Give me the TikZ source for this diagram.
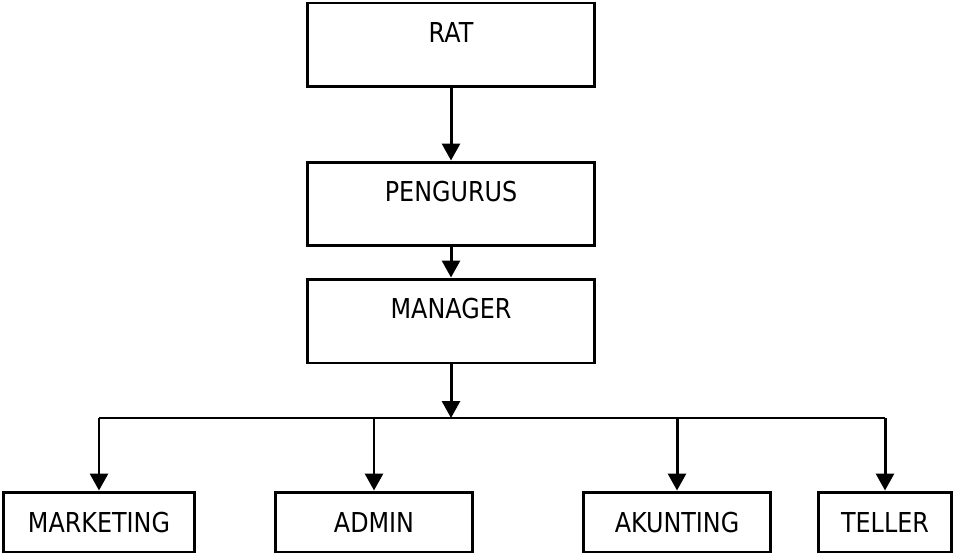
\documentclass[tikz,border=0pt]{standalone}
\usepackage{fontspec}
\setmainfont[FakeStretch=0.87]{DejaVu Sans}
\usepackage{tikz}
\usetikzlibrary{arrows.meta}

\tikzset{
    topbox/.style={draw, line width=1.7pt, minimum width=5.76cm, minimum height=1.68cm,
                   inner ysep=0pt, text height=0.4cm, text depth=0.5cm},
    unitbox/.style={draw, line width=1.7pt, minimum height=1.2cm, inner sep=0pt,
                    text height=0.4cm, text depth=0pt},
    link/.style={line width=1.7pt, -{Triangle[width=0.36cm,length=0.34cm]}}
}

\begin{document}
\begin{tikzpicture}[x=0.02cm, y=-0.02cm, font=\fontsize{15.6}{18}\selectfont]
    \useasboundingbox (0,0) rectangle (956,557);

    % top of the chart
    \node[topbox] (rat) at (451,45) {RAT};
    \node[topbox] (pengurus) at (451,204) {PENGURUS};
    \node[topbox] (manager) at (451,321) {MANAGER};

    % units
    \node[unitbox, minimum width=3.84cm] (marketing) at (99,522) {MARKETING};
    \node[unitbox, minimum width=3.96cm] (admin) at (374,522) {ADMIN};
    \node[unitbox, minimum width=3.74cm] (akunting) at (677,522) {AKUNTING};
    \node[unitbox, minimum width=2.66cm] (teller) at (885,522) {TELLER};

    % bus line
    \coordinate (busM) at (451,418);
    \coordinate (busL) at (marketing.north |- busM);
    \coordinate (busR) at (teller.north |- busM);
    \draw[line width=1.7pt] (busL) -- (busR);

    \draw[link] (rat) -- (pengurus);
    \draw[link] (pengurus) -- (manager);
    \draw[link] (manager) -- (busM);
    \foreach \u in {marketing,admin,akunting,teller}
        \draw[link] (\u.north |- busM) -- (\u.north);
\end{tikzpicture}
\end{document}
